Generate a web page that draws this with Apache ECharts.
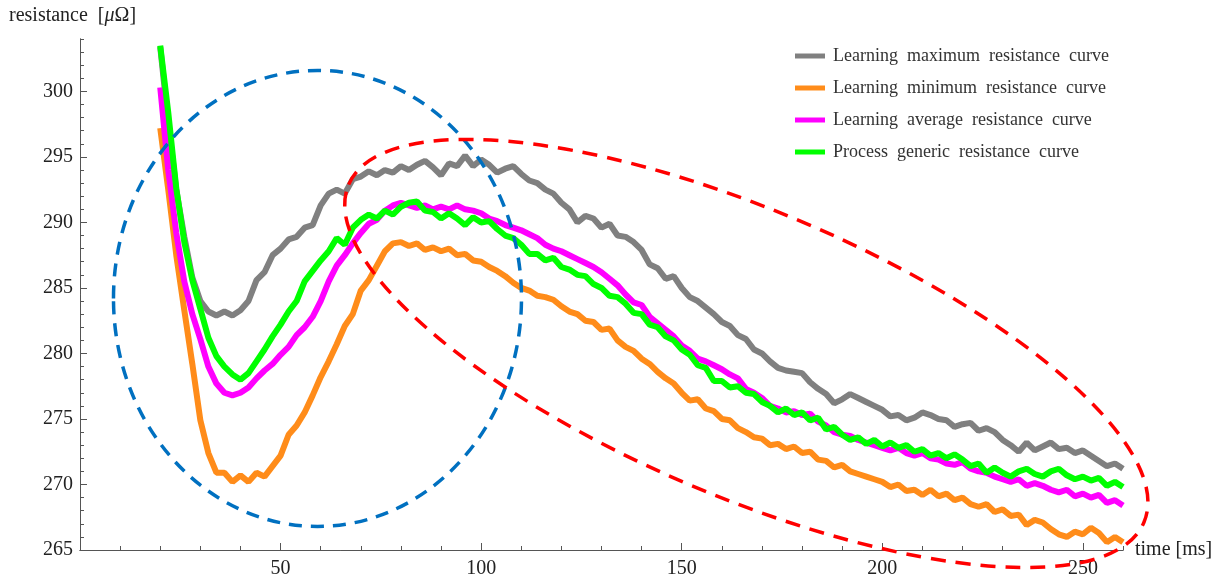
<!DOCTYPE html>
<html>
<head>
<meta charset="utf-8">
<title>resistance curves</title>
<script src="https://cdn.jsdelivr.net/npm/echarts@6/dist/echarts.min.js"></script>
<style>
  html, body { margin: 0; padding: 0; background: #fff; }
  #main { width: 1228px; height: 579px; }
</style>
</head>
<body>
<div id="main"></div>
<script type="text/javascript">
// sample times [ms]
var time = [
  20, 22, 24, 26, 28, 30, 32, 34, 36, 38,
  40, 42, 44, 46, 48, 50, 52, 54, 56, 58,
  60, 62, 64, 66, 68, 70, 72, 74, 76, 78,
  80, 82, 84, 86, 88, 90, 92, 94, 96, 98,
  100, 102, 104, 106, 108, 110, 112, 114, 116, 118,
  120, 122, 124, 126, 128, 130, 132, 134, 136, 138,
  140, 142, 144, 146, 148, 150, 152, 154, 156, 158,
  160, 162, 164, 166, 168, 170, 172, 174, 176, 178,
  180, 182, 184, 186, 188, 190, 192, 194, 196, 198,
  200, 202, 204, 206, 208, 210, 212, 214, 216, 218,
  220, 222, 224, 226, 228, 230, 232, 234, 236, 238,
  240, 242, 244, 246, 248, 250, 252, 254, 256, 258,
  260
];

// resistance [uOhm]
var maxCurve = [
  303.4, 297.6, 292.5, 288.9, 285.8, 284.0, 283.2, 282.9, 283.2, 282.9,
  283.3, 284.0, 285.6, 286.2, 287.5, 288.0, 288.7, 288.9, 289.6, 289.8,
  291.3, 292.2, 292.5, 292.2, 293.3, 293.5, 293.9, 293.6, 294.0, 293.8,
  294.3, 294.0, 294.4, 294.7, 294.2, 293.6, 294.5, 294.3, 295.1, 294.3,
  294.8, 294.4, 293.8, 294.1, 294.3, 293.7, 293.2, 293.0, 292.5, 292.2,
  291.5, 291.0, 290.0, 290.5, 290.3, 289.6, 289.9, 289.0, 288.9, 288.5,
  287.9, 286.8, 286.5, 285.7, 285.9, 285.0, 284.3, 284.0, 283.5, 283.0,
  282.4, 282.1, 281.4, 281.1, 280.3, 280.0, 279.4, 278.9, 278.7, 278.6,
  278.5, 277.8, 277.3, 276.9, 276.2, 276.5, 276.9, 276.6, 276.3, 276.0,
  275.7, 275.2, 275.3, 274.9, 275.1, 275.5, 275.3, 275.0, 274.9, 274.4,
  274.6, 274.7, 274.1, 274.3, 274.0, 273.4, 273.0, 272.5, 273.2, 272.6,
  272.9, 273.2, 272.7, 272.8, 272.4, 272.6, 272.2, 271.8, 271.4, 271.6,
  271.2
];

var minCurve = [
  297.2, 292.5, 287.5, 283.3, 279.2, 274.9, 272.4, 270.9, 270.9, 270.2,
  270.7, 270.2, 270.9, 270.6, 271.4, 272.2, 273.8, 274.5, 275.5, 276.8,
  278.2, 279.4, 280.7, 282.1, 283.0, 284.8, 285.6, 286.7, 287.8, 288.4,
  288.5, 288.2, 288.4, 287.9, 288.1, 287.8, 288.0, 287.5, 287.6, 287.1,
  287.0, 286.6, 286.3, 285.9, 285.4, 285.0, 284.8, 284.4, 284.3, 284.1,
  283.6, 283.2, 283.0, 282.5, 282.4, 281.8, 281.9, 281.0, 280.5, 280.2,
  279.6, 279.2, 278.6, 278.1, 277.7, 277.0, 276.4, 276.5, 275.8, 275.6,
  275.0, 274.9, 274.3, 274.0, 273.6, 273.5, 273.0, 273.1, 272.7, 272.9,
  272.4, 272.5, 271.9, 271.8, 271.3, 271.5, 271.0, 270.8, 270.6, 270.4,
  270.2, 269.8, 270.0, 269.5, 269.6, 269.2, 269.6, 269.1, 269.3, 268.8,
  269.0, 268.5, 268.3, 268.5, 267.9, 268.1, 267.6, 267.7, 266.9, 267.3,
  267.1, 266.6, 266.2, 266.0, 266.4, 266.2, 266.7, 266.3, 265.6, 266.0,
  265.6
];

var avgCurve = [
  300.3, 294.0, 289.2, 285.5, 283.0, 281.1, 279.0, 277.7, 277.0, 276.8,
  277.0, 277.4, 278.1, 278.7, 279.2, 279.9, 280.5, 281.4, 282.0, 282.8,
  284.0, 285.5, 286.7, 287.5, 288.4, 289.2, 289.9, 290.2, 290.9, 291.3,
  291.5, 291.3, 291.1, 291.3, 291.0, 291.2, 291.0, 291.3, 291.0, 290.9,
  290.7, 290.3, 290.1, 289.8, 289.6, 289.4, 289.1, 288.8, 288.3, 288.0,
  287.8, 287.5, 287.2, 286.9, 286.6, 286.2, 285.7, 285.2, 284.5, 283.9,
  283.7, 282.8, 282.3, 281.8, 281.3, 280.6, 280.2, 279.6, 279.4, 279.1,
  278.8, 278.4, 278.1, 277.3, 277.0, 276.6, 276.0, 275.8, 275.5, 275.6,
  275.3, 275.4, 274.8, 274.5, 274.0, 273.8, 273.7, 273.4, 273.2, 273.0,
  272.8, 272.6, 272.8, 272.4, 272.2, 272.4, 272.0, 271.9, 271.6, 271.5,
  271.7, 271.2, 271.0, 270.9, 270.6, 270.4, 270.2, 270.4, 269.9, 270.1,
  269.9, 269.6, 269.4, 269.6, 269.1, 269.3, 269.0, 269.2, 268.6, 268.8,
  268.4
];

var genericCurve = [
  303.5, 298.4, 292.6, 288.5, 285.6, 283.4, 281.2, 279.8, 279.0, 278.4,
  278.0, 278.5, 279.4, 280.3, 281.3, 282.2, 283.2, 284.0, 285.5, 286.3,
  287.1, 287.8, 288.8, 288.3, 289.6, 290.2, 290.6, 290.3, 290.9, 290.6,
  291.2, 291.5, 291.6, 290.9, 290.8, 290.3, 290.7, 290.3, 289.8, 290.4,
  290.0, 290.1, 289.5, 289.0, 288.8, 288.3, 287.6, 287.6, 287.1, 287.3,
  286.6, 286.4, 286.0, 285.9, 285.3, 285.0, 284.4, 284.3, 283.8, 283.1,
  283.0, 282.2, 282.0, 281.3, 281.0, 280.3, 279.9, 279.1, 278.9, 277.9,
  277.9, 277.4, 277.5, 277.0, 276.9, 276.3, 276.0, 275.5, 275.8, 275.3,
  275.5, 274.9, 275.1, 274.2, 274.4, 273.8, 273.4, 273.6, 273.1, 273.4,
  272.9, 273.2, 272.8, 273.0, 272.5, 272.7, 272.2, 272.4, 272.0, 272.3,
  271.9, 271.4, 271.6, 270.9, 271.3, 270.9, 270.6, 271.0, 271.2, 270.8,
  270.6, 271.0, 271.2, 270.7, 270.4, 270.6, 270.3, 270.5, 269.9, 270.2,
  269.8
];

var names = [
  'Learning maximum resistance curve',
  'Learning minimum resistance curve',
  'Learning average resistance curve',
  'Process generic resistance curve'
];
var colors = ['#808080', '#ff8c1a', '#ff00ff', '#00ff00'];
var xLabels = [50, 100, 150, 200, 250];
var yLabels = [265, 270, 275, 280, 285, 290, 295, 300];

var serif = '"Liberation Serif", "DejaVu Serif", serif';
var axisColor = '#555';

function makeSeries(name, values, color) {
    var pts = time.map(function (t, i) { return [t, values[i]]; });
    return {
        name: name,
        type: 'line',
        data: pts,
        showSymbol: false,
        symbol: 'none',
        lineStyle: { width: 6, color: color },
        itemStyle: { color: color }
    };
}

var myChart = echarts.init(document.getElementById('main'));

var option = {
    animation: false,
    backgroundColor: '#fff',
    grid: { left: 80, right: 105, top: 39, bottom: 28 },
    legend: {
        orient: 'vertical',
        left: 790,
        top: 42,
        icon: 'rect',
        itemWidth: 30,
        itemHeight: 5,
        itemGap: 14,
        data: names,
        formatter: function (n) { return n.split(' ').join('  '); },
        textStyle: { fontFamily: serif, fontSize: 18, color: '#333', lineHeight: 18, padding: [0, 0, 0, 3] }
    },
    xAxis: [{
        // minor ticks
        type: 'value', min: 0, max: 260, interval: 10, position: 'bottom',
        axisLine: { lineStyle: { color: axisColor } },
        axisTick: { inside: true, length: 4, lineStyle: { color: axisColor } },
        axisLabel: { show: false },
        splitLine: { show: false }
    }, {
        type: 'value', min: 0, max: 260, interval: 50, position: 'bottom',
        name: 'time [ms]', nameLocation: 'end', nameGap: 12,
        nameTextStyle: { fontFamily: serif, fontSize: 20, color: '#222' },
        axisLine: { lineStyle: { color: axisColor } },
        axisTick: { inside: true, length: 7, customValues: xLabels, lineStyle: { color: axisColor } },
        axisLabel: {
            customValues: xLabels, fontFamily: serif, fontSize: 20, color: '#222', margin: 9,
            formatter: function (v) { return (v > 0 && v % 50 === 0) ? v : ''; }
        },
        splitLine: { show: false }
    }],
    yAxis: [{
        type: 'value', min: 265, max: 304, interval: 1, position: 'left',
        axisLine: { lineStyle: { color: axisColor } },
        axisTick: { inside: true, length: 4, lineStyle: { color: axisColor } },
        axisLabel: { show: false },
        splitLine: { show: false }
    }, {
        type: 'value', min: 265, max: 304, interval: 5, position: 'left',
        axisLine: { lineStyle: { color: axisColor } },
        axisTick: { inside: true, length: 7, customValues: yLabels, lineStyle: { color: axisColor } },
        axisLabel: {
            customValues: yLabels, fontFamily: serif, fontSize: 20, color: '#222', margin: 7,
            formatter: function (v) { return v % 5 === 0 ? v : ''; }
        },
        splitLine: { show: false }
    }],
    series: [
        makeSeries(names[0], maxCurve, colors[0]),
        makeSeries(names[1], minCurve, colors[1]),
        makeSeries(names[2], avgCurve, colors[2]),
        makeSeries(names[3], genericCurve, colors[3])
    ],
    graphic: [{
        id: 'yname',
        type: 'text',
        left: 9,
        top: 6,
        style: {
            text: '{a|resistance  [}{b|μ}{a|Ω]}',
            rich: {
                a: { fontFamily: serif, fontSize: 20, fill: '#222' },
                b: { fontFamily: serif, fontSize: 20, fontStyle: 'italic', fill: '#222' }
            }
        }
    }]
};

myChart.setOption(option);

// dashed annotation ellipses, centred on data points
var blueC = myChart.convertToPixel({ xAxisIndex: 0, yAxisIndex: 0 }, [59.2, 284.2]);
var redC = myChart.convertToPixel({ xAxisIndex: 0, yAxisIndex: 0 }, [166.1, 280.0]);

myChart.setOption({
    graphic: [{
        id: 'blueRing',
        type: 'ellipse',
        x: blueC[0], y: blueC[1],
        z: 20, silent: true,
        shape: { cx: 0, cy: 0, rx: 204, ry: 228 },
        style: { fill: 'none', stroke: '#0070c0', lineWidth: 3.5, lineDash: [13, 9] }
    }, {
        id: 'redRing',
        type: 'ellipse',
        x: redC[0], y: redC[1],
        rotation: -23 * Math.PI / 180,
        z: 20, silent: true,
        shape: { cx: 0, cy: 0, rx: 432, ry: 143 },
        style: { fill: 'none', stroke: '#ff0000', lineWidth: 3.5, lineDash: [15, 10] }
    }]
});
</script>
</body>
</html>
